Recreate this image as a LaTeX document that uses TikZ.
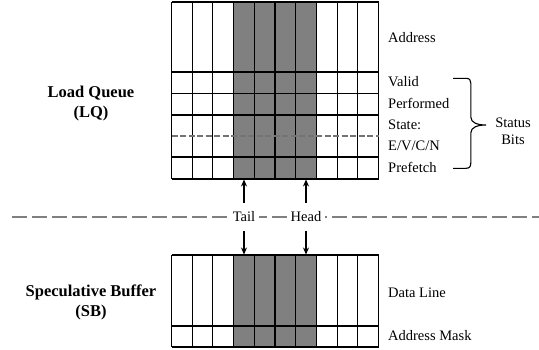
\documentclass[tikz,border=0pt]{standalone}
\usepackage{fontspec}
\setmainfont{Liberation Serif}
\usetikzlibrary{arrows.meta}
\begin{document}
\begin{tikzpicture}[x=1pt,y=-1pt,
  gridline/.style={line width=1.1pt,black},
  shade/.style={fill=black!50},
  lbl/.style={anchor=west,font=\fontsize{14.5}{17}\selectfont,inner sep=0pt},
  bigl/.style={align=center,font=\fontsize{16.5}{20}\selectfont\bfseries,inner sep=0pt},
  arr/.style={line width=1.5pt,-{Stealth[length=7pt,width=6pt]}},
  sep/.style={gray,line width=1.4pt,dash pattern=on 15pt off 5pt},
  inner/.style={black!55,line width=1.1pt,dash pattern=on 6pt off 2.5pt},
  ptr/.style={fill=white,inner sep=4pt,font=\fontsize{14.5}{17}\selectfont}]
\useasboundingbox (0,0) rectangle (539,349);
% ---------- Load Queue grid ----------
\def\xa{171.5}\def\cw{20.7}
\fill[shade] (233.6,2) rectangle (316.4,179);
\fill[shade] (233.6,255) rectangle (316.4,347);
\foreach \i in {0,...,10}{
  \draw[gridline] ({\xa+\cw*\i},2) -- ({\xa+\cw*\i},179);
  \draw[gridline] ({\xa+\cw*\i},255) -- ({\xa+\cw*\i},347);
}
\foreach \y in {2,72,93.5,115,157,179}{
  \draw[gridline] (\xa,\y) -- (378.5,\y);
}
\foreach \y in {255,326,347}{
  \draw[gridline] (\xa,\y) -- (378.5,\y);
}
\draw[inner] (\xa,136) -- (378.5,136);
% ---------- right labels ----------
\node[lbl] (addr) at (388,38) {Address};
\node[lbl] (valid) at (388,82) {Valid};
\node[lbl] (perf) at (388,103) {Performed};
\node[lbl] (state) at (388,125) {State:};
\node[lbl] (evcn) at (388,146) {E/V/C/N};
\node[lbl] (pref) at (388,167) {Prefetch};
\node[lbl] (dline) at (388,293) {Data Line};
\node[lbl] (amask) at (388,336) {Address Mask};
% brace
\draw[line width=1.1pt] (453,78.3) -- (466,78.3) .. controls (469.5,78.3) and (470.8,80) .. (470.8,83)
  -- (470.8,117) .. controls (470.8,123) and (478,125) .. (486,125)
  .. controls (478,125) and (470.8,127) .. (470.8,133)
  -- (470.8,163) .. controls (470.8,166.5) and (469.5,168.3) .. (466,168.3) -- (453,168.3);
\node[align=center,font=\fontsize{14.5}{17}\selectfont,inner sep=0pt] (status) at (513,131) {Status\\Bits};
% ---------- left labels ----------
\node[bigl] (lq) at (91,103.5) {Load Queue\\(LQ)};
\node[bigl] (sb) at (91,302) {Speculative Buffer\\(SB)};
% ---------- separator and pointers ----------
\coordinate (sepL) at (12,217);
\coordinate (sepR) at (539,217);
\draw[sep] (sepL) -- (sepR);
\node[ptr] (tail) at (244,217) {Tail};
\node[ptr] (head) at (306,217) {Head};
\coordinate (tailup0) at (244,203);
\coordinate (tailup1) at (244,179.5);
\coordinate (taildn0) at (244,231);
\coordinate (taildn1) at (244,254.5);
\coordinate (headup0) at (306,203);
\coordinate (headup1) at (306,179.5);
\coordinate (headdn0) at (306,231);
\coordinate (headdn1) at (306,254.5);
\draw[arr] (tailup0) -- (tailup1);
\draw[arr] (taildn0) -- (taildn1);
\draw[arr] (headup0) -- (headup1);
\draw[arr] (headdn0) -- (headdn1);
\end{tikzpicture}
\end{document}
